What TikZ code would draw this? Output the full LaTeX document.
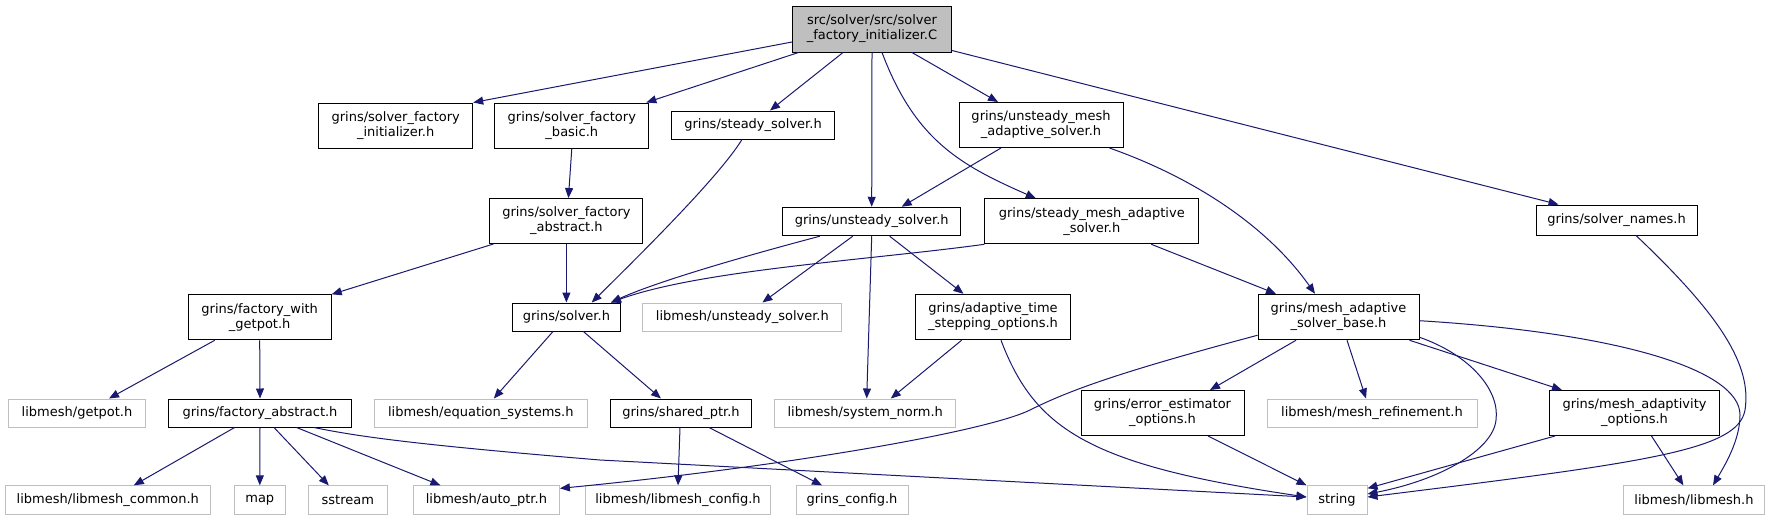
\documentclass[tikz,border=0pt]{standalone}
\usepackage{fontspec}
\newfontfamily\dejavu{DejaVu Sans}
\usetikzlibrary{arrows.meta}
\definecolor{edgeblue}{RGB}{25,25,112}
\definecolor{boxgray}{RGB}{191,191,191}
\definecolor{maingray}{RGB}{191,191,191}
\tikzset{
  box/.style={draw=black, line width=1pt, inner sep=0pt, align=center, font=\dejavu\fontsize{13}{15}\selectfont, text=black},
  gbox/.style={box, draw=boxgray},
  dep/.style={draw=edgeblue, line width=1pt, -{Triangle[length=10pt,width=8pt]}},
}
\begin{document}
\begin{tikzpicture}[x=1pt,y=-1pt]
\fill[white] (0,0) rectangle (1769,520);
\useasboundingbox (0,0) rectangle (1769,520);
% row 0
\node[box, fill=maingray, minimum width=159pt, minimum height=46pt] (main) at (872,29) {src/solver/src/solver\\\_factory\_initializer.C};
% row 1
\node[box, minimum width=154pt, minimum height=45pt] (sfi) at (395.7,125.5) {grins/solver\_factory\\\_initializer.h};
\node[box, minimum width=154pt, minimum height=45pt] (sfb) at (571.8,125.5) {grins/solver\_factory\\\_basic.h};
\node[box, minimum width=163pt, minimum height=28pt] (ss) at (753,125) {grins/steady\_solver.h};
\node[box, minimum width=164pt, minimum height=45pt] (umas) at (1041,125) {grins/unsteady\_mesh\\\_adaptive\_solver.h};
% row 2
\node[box, minimum width=153pt, minimum height=45pt] (sfa) at (566.4,221) {grins/solver\_factory\\\_abstract.h};
\node[box, minimum width=178pt, minimum height=28.5pt] (us) at (871.7,221.5) {grins/unsteady\_solver.h};
\node[box, minimum width=214pt, minimum height=45pt] (smas) at (1091.8,221.3) {grins/steady\_mesh\_adaptive\\\_solver.h};
\node[box, minimum width=161pt, minimum height=30pt] (sn) at (1616.5,220) {grins/solver\_names.h};
% row 3
\node[box, minimum width=143pt, minimum height=45pt] (fwg) at (259.7,317.3) {grins/factory\_with\\\_getpot.h};
\node[box, minimum width=108pt, minimum height=28pt] (solver) at (566.4,317) {grins/solver.h};
\node[gbox, minimum width=199pt, minimum height=28pt] (lus) at (742.4,317) {libmesh/unsteady\_solver.h};
\node[box, minimum width=155pt, minimum height=45.5pt] (ats) at (993,317) {grins/adaptive\_time\\\_stepping\_options.h};
\node[box, minimum width=161pt, minimum height=45.5pt] (masb) at (1338.5,317) {grins/mesh\_adaptive\\\_solver\_base.h};
% row 4
\node[gbox, minimum width=137pt, minimum height=28pt] (getpot) at (77,413) {libmesh/getpot.h};
\node[box, minimum width=183pt, minimum height=28pt] (fa) at (260,413) {grins/factory\_abstract.h};
\node[gbox, minimum width=213pt, minimum height=28pt] (eqs) at (480.8,413) {libmesh/equation\_systems.h};
\node[box, minimum width=140.5pt, minimum height=28pt] (sp) at (681,413) {grins/shared\_ptr.h};
\node[gbox, minimum width=181pt, minimum height=28pt] (snorm) at (865.2,413) {libmesh/system\_norm.h};
\node[box, minimum width=163pt, minimum height=45pt] (eeo) at (1162.5,413) {grins/error\_estimator\\\_options.h};
\node[gbox, minimum width=210pt, minimum height=28pt] (mr) at (1372,413) {libmesh/mesh\_refinement.h};
\node[box, minimum width=170pt, minimum height=45pt] (mao) at (1634.5,413) {grins/mesh\_adaptivity\\\_options.h};
% row 5
\node[gbox, minimum width=205.5pt, minimum height=28.3pt] (lc) at (107.8,500) {libmesh/libmesh\_common.h};
\node[gbox, minimum width=50.4pt, minimum height=28.3pt] (map) at (259.8,500) {map};
\node[gbox, minimum width=78.8pt, minimum height=28.3pt] (sstream) at (347.8,500) {sstream};
\node[gbox, minimum width=146pt, minimum height=28.3pt] (autoptr) at (486.4,500) {libmesh/auto\_ptr.h};
\node[gbox, minimum width=185.5pt, minimum height=28.3pt] (lconf) at (678,500) {libmesh/libmesh\_config.h};
\node[gbox, minimum width=112pt, minimum height=28.3pt] (gc) at (852,500) {grins\_config.h};
\node[gbox, minimum width=60pt, minimum height=28.3pt] (string) at (1337,500) {string};
\node[gbox, minimum width=140.5pt, minimum height=28.3pt] (lmh) at (1694,500) {libmesh/libmesh.h};

% edges from main
\draw[dep] ([yshift=-13pt]main.west) -- (sfi.north east);
\draw[dep] ([xshift=6.5pt]main.south west) -- ([xshift=-3pt]sfb.north east);
\draw[dep] ([xshift=-29pt]main.south) -- ([xshift=17pt]ss.north);
\draw[dep] (main.south) -- (us.north);
\draw[dep] ([xshift=10pt]main.south) .. controls (915,140) and (960,165) .. ([xshift=-56pt]smas.north);
\draw[dep] ([xshift=40pt]main.south) -- ([xshift=-43pt]umas.north);
\draw[dep] ([yshift=2pt]main.south east) -- ([xshift=-58pt]sn.north);
% row1
\draw[dep] (sfb.south) -- ([xshift=2pt]sfa.north);
\draw[dep] ([xshift=-11pt]ss.south) .. controls (720,175) and (650,245) .. ([xshift=25.3pt]solver.north);
\draw[dep] ([xshift=-40pt]umas.south) -- ([xshift=30pt]us.north);
\draw[dep] ([xshift=-14pt]umas.south east) .. controls (1200,180) and (1270,230) .. ([xshift=-23.5pt]masb.north);
% row2
\draw[dep] ([xshift=4pt]sfa.south west) -- (fwg.north east);
\draw[dep] (sfa.south) -- (solver.north);
\draw[dep] ([xshift=37.5pt]us.south west) .. controls (760,252) and (660,280) .. ([xshift=-10pt]solver.north east);
\draw[dep] ([xshift=-19pt]us.south) -- ([xshift=20pt]lus.north);
\draw[dep] (us.south) -- ([xshift=1.5pt]snorm.north);
\draw[dep] ([xshift=18pt]us.south) -- ([xshift=-29.5pt]ats.north);
\draw[dep] (smas.south west) .. controls (870,260) and (700,270) .. ([xshift=-10pt]solver.north east);
\draw[dep] ([xshift=-48pt]smas.south east) -- ([xshift=-62.5pt]masb.north);
\draw[dep] ([xshift=19.5pt]sn.south) .. controls (1720,315) and (1752,365) .. (1745,410) .. controls (1738,450) and (1650,462) .. ([yshift=3pt]string.east);
% row3
\draw[dep] ([xshift=27pt]fwg.south west) -- ([xshift=32pt]getpot.north);
\draw[dep] (fwg.south) -- (fa.north);
\draw[dep] ([xshift=-13.4pt]solver.south) -- ([xshift=13pt]eqs.north);
\draw[dep] ([xshift=17pt]solver.south) -- ([xshift=-20pt]sp.north);
\draw[dep] ([xshift=-31.4pt]ats.south) -- ([xshift=25.6pt]snorm.north);
\draw[dep] ([xshift=8pt]ats.south) .. controls (1035,430) and (1090,465) .. ([yshift=3pt]string.west);
\draw[dep] ([yshift=5pt]masb.south west) .. controls (1120,372) and (1070,390) .. (1030,410) .. controls (990,430) and (800,465) .. ([yshift=-3pt]autoptr.north east);
\draw[dep] ([xshift=38.5pt]masb.south west) -- ([xshift=47.5pt]eeo.north);
\draw[dep] ([xshift=8.5pt]masb.south) -- ([xshift=-6pt]mr.north);
\draw[dep] ([xshift=-10pt]masb.south east) -- ([xshift=13pt]mao.north west);
\draw[dep] ([yshift=3pt]masb.south east) .. controls (1470,355) and (1500,390) .. (1496,420) .. controls (1493,450) and (1440,480) .. ([yshift=6pt]string.east);
\draw[dep] ([yshift=-3.7pt]masb.east) .. controls (1620,333) and (1740,370) .. (1740,415) .. controls (1740,440) and (1725,465) .. ([xshift=19pt]lmh.north);
% row4
\draw[dep] ([xshift=-25.4pt]fa.south) -- ([xshift=26pt]lc.north);
\draw[dep] (fa.south) -- (map.north);
\draw[dep] ([xshift=14pt]fa.south) -- ([xshift=-19pt]sstream.north);
\draw[dep] ([xshift=36.6pt]fa.south) -- ([xshift=-46pt]autoptr.north);
\draw[dep] ([xshift=54pt]fa.south) .. controls (360,437) and (420,445) .. (600,460) -- ([yshift=3pt]string.west);
\draw[dep] ([xshift=-1pt]sp.south) -- (lconf.north);
\draw[dep] ([xshift=28pt]sp.south) -- ([xshift=-30pt]gc.north);
\draw[dep] ([xshift=45.5pt]eeo.south) -- (string.north west);
\draw[dep] ([xshift=6pt]mao.south west) -- ([yshift=-3pt]string.north east);
\draw[dep] ([xshift=17pt]mao.south) -- ([xshift=-10.6pt]lmh.north);
\end{tikzpicture}
\end{document}
